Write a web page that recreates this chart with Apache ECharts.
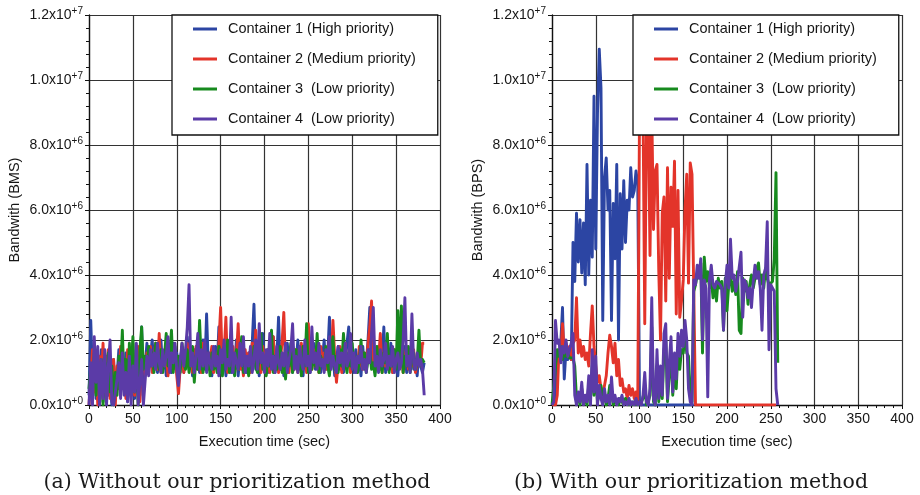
<!DOCTYPE html>
<html>
<head>
<meta charset="utf-8">
<style>
  html, body { margin: 0; padding: 0; background: #ffffff; }
  #chart { width: 920px; height: 495px; }
</style>
<script src="https://cdn.jsdelivr.net/npm/echarts@6/dist/echarts.min.js"></script>
</head>
<body>
<div id="chart"></div>
<script>
// Container names, in draw order (the last one is drawn on top)
const containerNames = [
  'Container 1 (High priority)',
  'Container 2 (Medium priority)',
  'Container 3  (Low priority)',
  'Container 4  (Low priority)'
];
const containerColors = ['#2c45a3', '#e3342a', '#178a1e', '#5b3ba7'];

// Samples are taken every 2 seconds, starting at t = 0
const sampleStep = 2;

// Y tick labels: mantissa and power of ten, one entry per tick (0, 2, 4 ... 12 x 10^6)
const yTickMantissa = ['0.0', '2.0', '4.0', '6.0', '8.0', '1.0', '1.2'];
const yTickExponent = ['+0', '+6', '+6', '+6', '+6', '+7', '+7'];

const panelCaptions = [
  '(a) Without our prioritization method',
  '(b) With our prioritization method'
];
const yAxisNames = ['Bandwith (BMS)', 'Bandwith (BPS)'];
const xAxisName = 'Execution time (sec)';

// Bandwidth in units of 10^6, without prioritization
const noPrioC1 = [
  0.3,2.6,0.9,1.6,0.2,1.3,0.6,1.7,0.1,1.2,
  1.5,0.3,1.1,0.0,1.4,0.2,0.9,1.7,0.4,1.2,
  0.5,1.6,0.1,1.3,0.8,1.9,0.2,1.0,1.4,0.3,
  2.4,0.5,1.2,1.9,1.1,1.5,2.0,1.2,1.7,1.0,
  1.4,2.0,1.1,1.6,0.9,1.8,1.3,1.0,1.9,1.2,
  1.6,0.9,1.3,1.8,1.0,1.5,2.1,1.1,1.4,0.9,
  1.7,1.2,1.9,1.0,1.3,2.0,1.1,2.8,1.2,1.6,
  0.9,1.5,1.8,1.1,2.4,1.0,1.3,1.7,0.9,1.4,
  1.9,1.0,1.6,1.2,2.0,0.9,1.5,1.1,1.8,1.3,
  1.0,1.6,1.2,1.9,3.1,1.1,1.4,0.9,1.7,2.2,
  1.2,1.5,1.0,1.8,1.3,2.1,1.0,1.4,2.7,1.1,
  1.6,0.9,1.3,1.9,1.2,1.5,1.0,1.7,1.3,2.0,
  1.1,1.4,0.9,1.8,1.2,1.6,1.0,1.5,1.9,1.1,
  1.3,1.7,1.0,1.4,2.0,1.1,1.5,2.7,1.2,1.6,
  0.9,1.4,1.8,1.1,1.5,1.0,1.3,1.9,2.4,1.2,
  1.5,1.0,1.7,1.2,1.4,0.9,1.8,1.1,1.3,2.0,
  3.0,1.2,1.6,1.0,1.4,1.8,1.1,1.3,2.4,1.0,
  1.5,1.2,1.9,1.0,1.6,1.3,0.9,1.7,1.2,1.4,
  1.8,1.0,1.5,1.2,2.1,1.1,1.4,0.9,1.6,1.2,
  1.0,1.3
];
const noPrioC2 = [
  0.0,0.8,1.7,0.4,1.2,0.0,1.5,0.7,1.9,0.3,
  1.1,1.7,0.2,0.9,1.4,0.0,1.2,0.5,1.8,0.9,
  1.3,0.2,1.7,0.6,1.1,1.6,0.3,0.9,1.8,0.1,
  1.2,1.5,0.9,1.6,1.3,1.8,1.0,1.4,1.9,1.1,
  2.2,1.0,1.5,1.2,1.7,0.9,1.4,2.0,1.1,1.6,
  0.9,0.35,1.2,1.7,1.0,1.5,1.9,1.2,1.6,1.0,
  1.3,1.8,1.1,1.5,1.0,1.9,1.2,1.6,1.1,1.4,
  1.8,1.0,1.5,1.2,1.9,3.0,1.1,1.6,2.7,1.0,
  1.4,1.2,1.8,1.0,1.5,2.5,1.1,1.4,0.9,1.7,
  1.2,1.6,1.0,1.9,1.3,2.3,1.1,1.5,1.0,1.8,
  1.3,1.1,1.7,1.0,1.5,2.1,1.2,1.6,1.0,1.4,
  1.9,2.85,1.2,1.5,1.0,1.8,1.3,1.1,1.7,1.0,
  1.4,1.9,1.2,1.6,1.0,2.5,1.3,1.1,1.7,1.2,
  1.5,1.0,1.8,1.3,1.6,1.1,1.4,2.0,1.2,2.6,
  1.5,0.7,1.3,1.8,1.0,1.4,1.9,1.2,1.5,1.0,
  1.7,1.2,1.4,1.0,1.8,1.3,1.1,1.6,1.2,1.9,
  2.4,3.2,1.3,1.6,1.1,1.4,2.2,1.0,1.5,1.2,
  1.8,1.1,1.4,1.0,1.7,1.3,1.9,1.2,1.5,1.0,
  1.4,1.8,1.1,1.5,1.2,1.7,1.0,1.3,1.6,1.2,
  1.9,1.9
];
const noPrioC3 = [
  0.5,1.2,0.6,1.6,0.3,1.1,0.8,1.4,0.0,1.3,
  0.7,1.6,0.4,1.2,0.0,1.0,0.3,1.5,1.0,2.3,
  0.6,1.4,0.2,1.9,0.8,2.1,0.4,1.3,0.0,1.7,
  2.4,1.1,1.5,1.0,1.8,1.2,1.6,1.0,1.9,1.3,
  1.1,1.7,1.0,1.5,2.2,1.2,1.6,2.3,1.0,1.8,
  1.2,1.5,1.0,1.9,1.3,1.1,1.7,1.0,1.4,1.8,
  0.7,1.5,1.1,2.6,1.3,1.0,1.7,1.2,1.5,0.9,
  1.6,1.1,1.4,1.0,1.8,1.2,0.9,1.5,1.3,2.0,
  1.0,1.6,1.2,0.9,1.7,1.1,1.4,2.1,1.0,1.5,
  1.3,0.9,1.6,1.1,1.8,1.2,1.0,1.5,2.2,1.1,
  1.4,0.9,1.7,1.2,2.3,1.0,1.5,1.1,1.3,1.8,
  1.0,1.4,0.8,1.6,1.2,1.9,1.0,1.3,1.7,1.1,
  1.5,0.9,1.8,1.2,2.5,1.0,1.4,1.1,1.6,1.2,
  2.2,1.0,1.5,1.3,1.1,1.8,1.2,0.9,1.6,2.1,
  1.1,1.5,1.0,1.7,1.2,2.2,1.4,1.0,1.6,1.2,
  1.9,1.1,1.5,1.0,1.3,2.0,1.2,1.6,1.0,1.4,
  1.7,1.1,1.3,0.9,1.8,1.2,1.5,1.0,1.6,1.3,
  2.2,1.0,1.4,1.2,1.7,1.1,2.9,1.3,3.05,1.0,
  1.5,1.2,1.8,1.0,1.4,1.6,1.1,1.3,2.3,1.2,
  1.4,1.3
];
const noPrioC4 = [
  0.0,1.3,0.0,2.1,0.7,1.8,0.0,1.4,0.2,1.7,
  0.0,1.2,2.0,0.1,0.0,0.0,0.8,1.3,0.2,1.6,
  0.3,1.0,0.1,1.5,0.0,1.2,0.4,1.9,0.0,0.0,
  1.4,0.0,0.0,1.5,0.9,1.7,1.2,1.6,1.1,1.9,
  1.3,1.0,1.7,1.2,1.5,2.1,1.0,1.6,1.3,1.9,
  1.1,0.6,1.4,1.9,1.2,1.7,2.4,3.7,1.2,1.6,
  1.0,1.5,2.2,1.1,1.7,1.2,2.0,1.0,1.6,1.3,
  1.1,1.8,1.2,1.5,0.9,1.7,1.3,2.0,1.1,1.4,
  1.2,2.7,1.0,1.6,1.3,1.1,1.9,1.2,2.1,1.0,
  1.5,1.2,1.8,1.0,1.4,2.0,1.1,2.5,1.3,1.6,
  1.0,1.7,1.2,2.2,1.1,1.5,1.0,1.8,1.3,1.1,
  1.6,1.2,1.9,1.0,1.4,1.7,2.5,1.1,1.5,1.0,
  1.8,1.3,1.1,2.0,1.2,1.5,1.0,2.4,1.3,1.6,
  1.1,1.9,1.2,1.4,1.0,1.7,1.3,2.1,1.1,1.5,
  1.2,1.0,1.8,1.3,1.6,1.1,1.9,1.2,1.4,2.2,
  1.1,1.6,1.0,1.5,1.3,1.8,1.1,1.4,1.0,1.7,
  1.3,2.2,3.0,1.2,1.5,1.0,1.7,1.2,1.4,1.9,
  1.1,1.5,1.2,1.8,1.0,1.4,1.6,1.1,1.3,2.0,
  3.3,1.2,1.5,1.0,2.8,1.3,1.1,1.6,1.2,1.4,
  1.1,0.3
];

// Bandwidth in units of 10^6, with prioritization
const withPrioC1 = [
  0.0,0.0,0.2,1.6,1.5,1.9,3.0,0.8,1.7,1.4,
  1.6,1.4,5.0,3.8,5.9,4.4,5.7,4.06,5.6,3.7,
  7.4,4.0,6.3,4.55,9.5,4.8,9.0,10.95,9.75,2.6,
  7.0,7.6,6.0,6.6,2.6,6.2,4.5,7.4,2.0,6.5,
  4.8,6.9,5.0,6.3,6.0,7.3,6.4,6.6,7.2,6.8,
  0.0,0.0,0.0,0.0,0.0,0.0,0.0,0.0,0.0,0.0,
  0.0,0.0,0.0,0.0,0.0,0.0,0.0,0.0,0.0,0.0,
  0.0,0.0,0.0,0.0,0.0,0.0,0.0,0.0,0.0,0.0,
  0.0,0.0
];
const withPrioC2 = [
  0.0,0.0,0.0,0.3,1.7,1.4,2.5,1.6,1.9,1.5,
  1.8,1.4,1.9,2.0,3.3,1.6,2.0,1.5,1.8,1.4,
  1.6,1.2,2.2,3.05,1.8,1.2,0.7,0.9,0.5,0.3,
  0.6,0.9,1.6,2.15,1.8,1.3,1.9,0.9,1.4,0.6,
  0.8,0.4,0.5,0.2,0.6,0.3,0.5,0.2,0.4,0.1,
  9.0,8.9,9.2,2.5,8.8,9.3,4.6,9.1,5.4,7.2,
  7.4,4.15,2.0,5.9,6.4,3.2,7.3,3.9,6.7,5.5,
  7.5,2.8,6.6,2.7,3.2,3.85,6.0,7.1,3.75,7.45,
  7.1,7.1,0.0,0.0,0.0,0.0,0.0,0.0,0.0,0.0,
  0.0,0.0,0.0,0.0,0.0,0.0,0.0,0.0,0.0,0.0,
  0.0,0.0,0.0,0.0,0.0,0.0,0.0,0.0,0.0,0.0,
  0.0,0.0,0.0,0.0,0.0,0.0,0.0,0.0,0.0,0.0,
  0.0,0.0,0.0,0.0,0.0,0.0,0.0,0.0,0.0
];
const withPrioC3 = [
  0.0,0.0,1.2,1.7,1.5,1.8,1.4,1.7,1.5,1.6,
  1.45,1.4,1.45,1.2,0.2,0.3,0.0,0.5,0.1,0.2,
  0.0,0.6,0.2,1.2,0.3,1.0,0.1,0.4,0.6,0.1,
  0.3,0.0,0.2,0.6,0.4,0.0,0.2,0.1,0.0,0.2,
  0.1,0.0,0.2,0.1,0.0,0.1,0.0,0.1,0.0,0.1,
  0.0,0.1,0.2,0.6,0.0,0.1,0.3,2.4,0.1,0.0,
  1.2,0.1,0.8,0.2,1.7,2.0,0.1,0.9,1.6,0.3,
  1.2,0.5,1.7,1.1,1.7,1.6,2.2,1.6,1.5,0.3,
  0.1,3.5,3.7,4.0,4.2,4.37,1.6,4.55,3.8,4.1,
  3.6,3.9,3.3,3.7,3.2,3.9,3.6,3.8,2.3,3.9,
  2.9,3.7,4.0,3.5,3.8,3.4,4.1,2.3,2.2,3.9,
  3.5,3.8,3.1,3.7,4.0,3.6,3.9,4.2,4.37,3.7,
  4.0,3.6,4.2,3.9,3.7,3.75,3.8,4.5,7.15,1.3
];
const withPrioC4 = [
  0.0,0.1,2.6,1.9,2.0,1.3,1.8,1.6,2.0,1.5,
  1.7,1.9,2.2,0.3,0.0,0.4,0.1,0.7,0.0,0.3,
  0.1,0.9,0.0,1.7,0.4,1.5,0.0,0.6,0.2,0.0,
  0.5,0.1,0.3,0.0,0.86,0.1,0.3,0.0,0.2,0.1,
  0.3,0.0,0.1,0.0,0.2,0.0,0.1,0.0,0.2,0.0,
  0.1,0.0,0.3,1.0,0.1,0.0,0.5,3.3,0.2,0.0,
  1.7,0.2,1.2,0.3,2.2,2.5,0.2,1.3,2.1,0.4,
  1.6,0.8,2.2,1.5,2.3,1.8,2.6,2.0,0.5,0.1,
  0.0,3.85,3.7,4.3,3.9,4.5,2.0,3.85,3.6,0.25,
  3.85,4.3,3.7,3.6,3.8,3.85,3.7,3.6,2.3,3.7,
  4.3,3.6,5.1,3.9,4.0,3.5,3.8,3.8,4.7,2.7,
  3.85,3.7,3.3,3.6,3.0,3.8,4.3,3.9,4.1,3.6,
  2.3,4.0,4.2,5.64,1.7,3.7,3.6,3.5,0.5,0.0
];

const panels = [
  [noPrioC1, noPrioC2, noPrioC3, noPrioC4],
  [withPrioC1, withPrioC2, withPrioC3, withPrioC4]
];

const textColor = '#161616';
const sansFont = '"Liberation Sans", Arial, Helvetica, sans-serif';

function toPoints(values) {
  return values.map((v, i) => [i * sampleStep, v]);
}

function yLabel(value) {
  const idx = Math.round(value / 2);
  return '{m|' + yTickMantissa[idx] + 'x10}{s|' + yTickExponent[idx] + '}';
}

const gridBoxes = [
  { left: 89, top: 15, width: 351, height: 390 },
  { left: 552, top: 15, width: 350, height: 390 }
];
const legendBoxes = [
  { left: 172, top: 15 },
  { left: 633, top: 15 }
];
const captionCenters = [237, 691];

const option = {
  animation: false,
  backgroundColor: '#ffffff',
  textStyle: { fontFamily: sansFont },
  grid: gridBoxes,
  xAxis: gridBoxes.map((g, i) => ({
    type: 'value',
    gridIndex: i,
    min: 0,
    max: 400,
    interval: 50,
    name: xAxisName,
    nameLocation: 'middle',
    nameGap: 29,
    nameTextStyle: { fontSize: 14.5, color: textColor, fontFamily: sansFont },
    axisLine: { show: true, onZero: false, lineStyle: { color: '#111', width: 1.3 } },
    axisTick: { show: true, length: 4, lineStyle: { color: '#111', width: 1 } },
    minorTick: { show: true, splitNumber: 5, length: 3, lineStyle: { color: '#111', width: 1 } },
    axisLabel: { fontSize: 14, color: textColor, margin: 7, showMinLabel: true, showMaxLabel: true, hideOverlap: false },
    splitLine: { show: true, lineStyle: { color: '#333', width: 1.2 } },
    minorSplitLine: { show: false }
  })),
  yAxis: gridBoxes.map((g, i) => ({
    type: 'value',
    gridIndex: i,
    min: 0,
    max: 12,
    interval: 2,
    name: yAxisNames[i],
    nameLocation: 'middle',
    nameGap: 67,
    nameTextStyle: { fontSize: 14.5, color: textColor, fontFamily: sansFont },
    axisLine: { show: true, onZero: false, lineStyle: { color: '#111', width: 1.3 } },
    axisTick: { show: true, length: 4, lineStyle: { color: '#111', width: 1 } },
    minorTick: { show: true, splitNumber: 5, length: 3, lineStyle: { color: '#111', width: 1 } },
    axisLabel: {
      margin: 6,
      formatter: yLabel,
      showMinLabel: true,
      showMaxLabel: true,
      rich: {
        m: { fontSize: 14, color: textColor, fontFamily: sansFont, lineHeight: 18 },
        s: { fontSize: 10, color: textColor, fontFamily: sansFont, verticalAlign: 'top' }
      }
    },
    splitLine: { show: true, lineStyle: { color: '#333', width: 1.2 } }
  })),
  legend: legendBoxes.map(b => ({
    left: b.left,
    top: b.top,
    orient: 'vertical',
    data: containerNames,
    icon: 'rect',
    itemWidth: 24,
    itemHeight: 3,
    itemGap: 12,
    padding: [5, 22, 7, 21],
    backgroundColor: '#ffffff',
    borderColor: '#111',
    borderWidth: 1.3,
    borderRadius: 0,
    selectedMode: false,
    textStyle: { fontSize: 14.5, color: textColor, fontFamily: sansFont, lineHeight: 18, padding: [0, 0, 0, 6] }
  })),
  graphic: panelCaptions.map((text, i) => ({
    type: 'text',
    x: captionCenters[i],
    y: 483,
    style: {
      text: text,
      fontSize: 20.5,
      fontFamily: '"DejaVu Serif", "Liberation Serif", serif',
      fill: '#1a1a1a',
      align: 'center',
      verticalAlign: 'middle',
      textAlign: 'center',
      textVerticalAlign: 'middle'
    }
  })),
  series: []
};

panels.forEach((panel, p) => {
  panel.forEach((values, c) => {
    option.series.push({
      type: 'line',
      name: containerNames[c],
      xAxisIndex: p,
      yAxisIndex: p,
      data: toPoints(values),
      showSymbol: false,
      symbol: 'none',
      clip: true,
      color: containerColors[c],
      lineStyle: { color: containerColors[c], width: 2.9, join: 'round' },
      z: 2 + c * 0.01
    });
  });
});

const chart = echarts.init(document.getElementById('chart'), null, { renderer: 'canvas' });
chart.setOption(option);
</script>
</body>
</html>
